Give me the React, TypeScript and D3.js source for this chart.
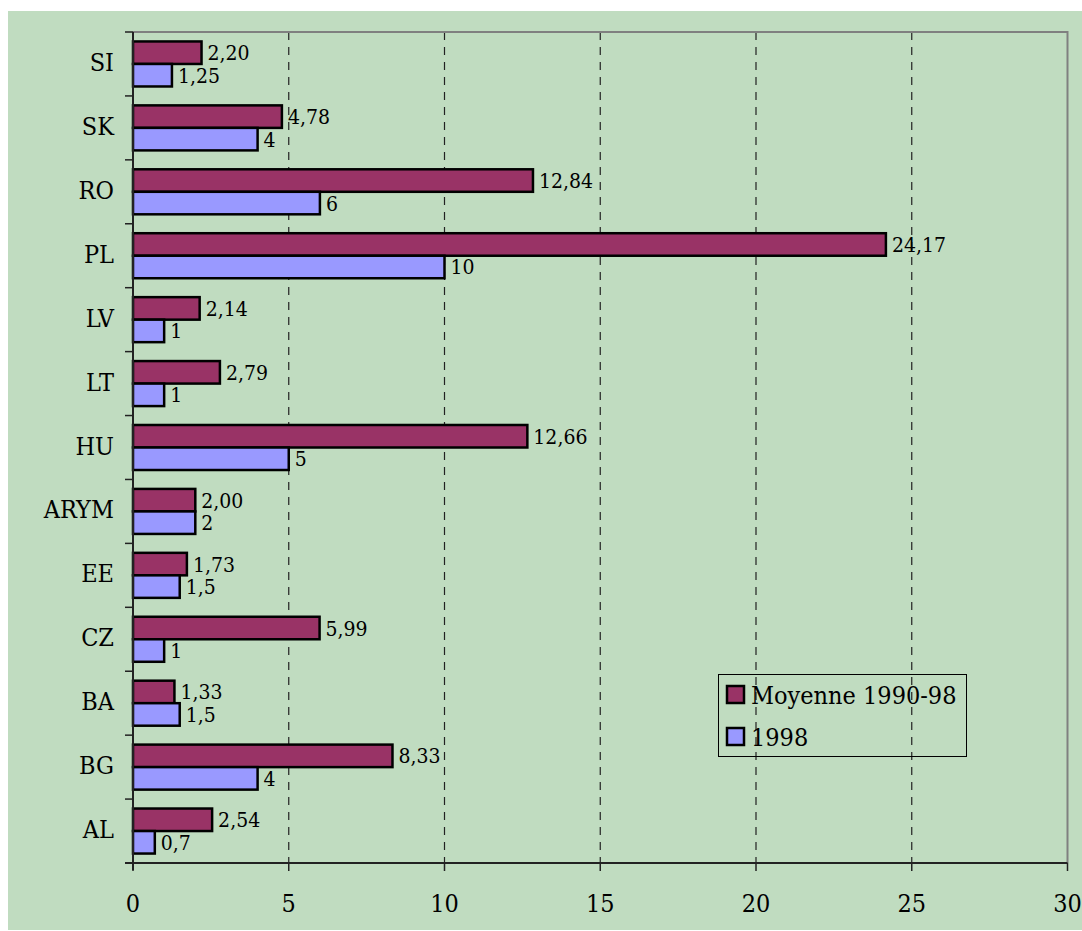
import React, { useEffect, useRef } from "react";
import * as d3 from "d3";

// Countries, top to bottom
const categories = ["SI", "SK", "RO", "PL", "LV", "LT", "HU", "ARYM", "EE", "CZ", "BA", "BG", "AL"];
const moyenne = [2.2, 4.78, 12.84, 24.17, 2.14, 2.79, 12.66, 2.0, 1.73, 5.99, 1.33, 8.33, 2.54];
const y1998 = [1.25, 4, 6, 10, 1, 1, 5, 2, 1.5, 1, 1.5, 4, 0.7];
const xTicks = [0, 5, 10, 15, 20, 25, 30];
const seriesNames = ["Moyenne 1990-98", "1998"];
const colors = ["#993366", "#9999FF"];

const FONT = "'DejaVu Serif Condensed', 'DejaVu Serif', serif";

const App: React.FC = () => {
  const ref = useRef<SVGSVGElement>(null);

  useEffect(() => {
    if (!ref.current) return;
    const svg = d3.select(ref.current);
    svg.selectAll("*").remove();

    const left = 133;
    const right = 1067.5;
    const top = 32;
    const bottom = 863;

    // background
    svg.append("rect")
      .attr("x", 8).attr("y", 11)
      .attr("width", 1074).attr("height", 919)
      .attr("fill", "#C0DCC0");

    const x = d3.scaleLinear().domain([0, 30]).range([left, right]);
    const y = d3.scaleBand().domain(categories).range([top, bottom]);
    const inner = d3.scaleBand().domain(["m", "y"]).range([0, y.bandwidth()]).paddingOuter(0.42);

    // grid lines
    svg.append("g")
      .selectAll("line")
      .data(xTicks.filter((d) => d > 0 && d < 30))
      .enter()
      .append("line")
      .attr("x1", (d) => x(d)).attr("x2", (d) => x(d))
      .attr("y1", top).attr("y2", bottom)
      .attr("stroke", "#222")
      .attr("stroke-width", 1.2)
      .attr("stroke-dasharray", "8,7");

    // top and right border of plot area
    svg.append("path")
      .attr("d", `M${left},${top}H${right}V${bottom}`)
      .attr("fill", "none")
      .attr("stroke", "#808080")
      .attr("stroke-width", 2);

    // bars
    const rows = categories.map((c, i) => ({ c, m: moyenne[i], v: y1998[i] }));
    const g = svg.append("g");
    rows.forEach((r) => {
      const y0 = y(r.c) || 0;
      [
        { key: "m", val: r.m, color: colors[0], label: d3.format(".2f")(r.m).replace(".", ",") },
        { key: "y", val: r.v, color: colors[1], label: String(r.v).replace(".", ",") },
      ].forEach((b) => {
        const by = y0 + (inner(b.key) || 0);
        g.append("rect")
          .attr("x", x(0))
          .attr("y", by)
          .attr("width", x(b.val) - x(0))
          .attr("height", inner.bandwidth())
          .attr("fill", b.color)
          .attr("stroke", "#000")
          .attr("stroke-width", 2.5);
        g.append("text")
          .attr("x", x(b.val) + 6)
          .attr("y", by + inner.bandwidth() / 2 + 7.5)
          .style("font-family", FONT)
          .style("font-size", "21px")
          .attr("fill", "#000")
          .text(b.label);
      });
    });

    // left axis
    svg.append("line")
      .attr("x1", left).attr("x2", left)
      .attr("y1", top).attr("y2", bottom + 7)
      .attr("stroke", "#222").attr("stroke-width", 2);
    svg.append("g")
      .selectAll("line")
      .data(d3.range(categories.length + 1))
      .enter()
      .append("line")
      .attr("x1", left - 8).attr("x2", left)
      .attr("y1", (i) => top + i * y.step())
      .attr("y2", (i) => top + i * y.step())
      .attr("stroke", "#222").attr("stroke-width", 1.5);
    svg.append("g")
      .selectAll("text")
      .data(categories)
      .enter()
      .append("text")
      .attr("x", 114)
      .attr("y", (d) => (y(d) || 0) + y.bandwidth() / 2 + 7)
      .attr("text-anchor", "end")
      .style("font-family", FONT)
      .style("font-size", "25px")
      .text((d) => d);

    // bottom axis
    svg.append("line")
      .attr("x1", left - 8).attr("x2", right)
      .attr("y1", bottom).attr("y2", bottom)
      .attr("stroke", "#222").attr("stroke-width", 2);
    svg.append("g")
      .selectAll("line")
      .data(xTicks)
      .enter()
      .append("line")
      .attr("x1", (d) => x(d)).attr("x2", (d) => x(d))
      .attr("y1", bottom).attr("y2", bottom + 8)
      .attr("stroke", "#222").attr("stroke-width", 1.5);
    svg.append("g")
      .selectAll("text")
      .data(xTicks)
      .enter()
      .append("text")
      .attr("x", (d) => x(d))
      .attr("y", 912)
      .attr("text-anchor", "middle")
      .style("font-family", FONT)
      .style("font-size", "25px")
      .text((d) => d);

    // legend
    const lg = svg.append("g");
    lg.append("rect")
      .attr("x", 718.5).attr("y", 674.5)
      .attr("width", 248).attr("height", 82)
      .attr("fill", "none")
      .attr("stroke", "#000").attr("stroke-width", 1);
    seriesNames.forEach((name, i) => {
      const ly = 686 + i * 42;
      lg.append("rect")
        .attr("x", 727).attr("y", ly)
        .attr("width", 17).attr("height", 17)
        .attr("fill", colors[i])
        .attr("stroke", "#000").attr("stroke-width", 2.5);
      lg.append("text")
        .attr("x", 751)
        .attr("y", ly + 18)
        .style("font-family", FONT)
        .style("font-size", "25px")
        .text(name);
    });
  }, []);

  return (
    <svg
      ref={ref}
      width={1082}
      height={931}
      style={{ position: "absolute", left: 0, top: 0 }}
    />
  );
};

export default App;
